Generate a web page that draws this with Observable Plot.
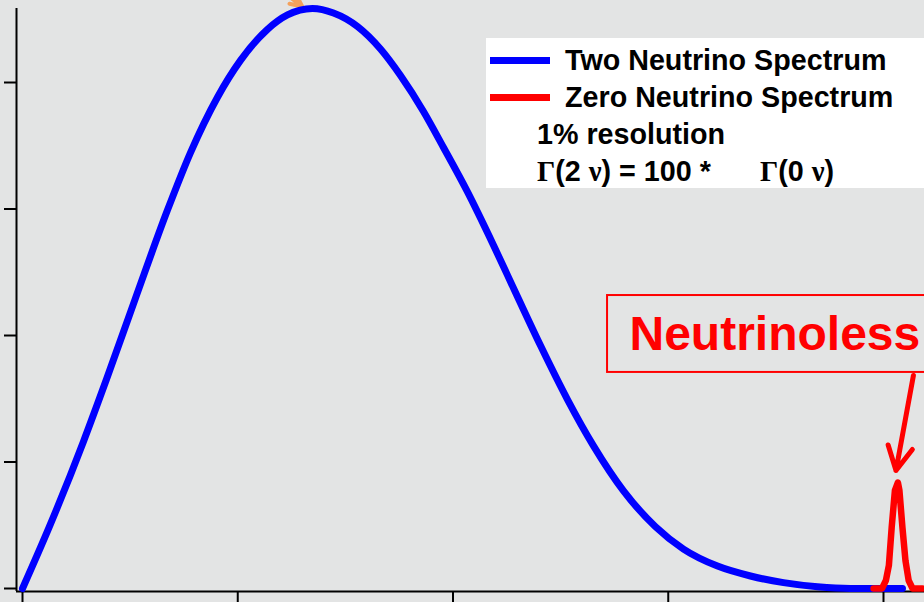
<!DOCTYPE html>
<html>
<head>
<meta charset="utf-8">
<script src="https://cdn.jsdelivr.net/npm/d3@7"></script>
<script src="https://cdn.jsdelivr.net/npm/@observablehq/plot@0.6"></script>
<style>
  html, body { margin: 0; padding: 0; background: #e3e4e4; }
  #chart { position: relative; width: 924px; height: 602px; overflow: hidden; }
  #chart svg { position: absolute; left: 0; top: 0; }
  .legend { position: absolute; left: 486px; top: 38px; width: 438px; height: 150px; background: #ffffff; }
  .legend .row { position: absolute; font-family: Arial, "Liberation Sans", sans-serif; font-weight: bold;
                 font-size: 28.7px; line-height: 28px; color: #000; white-space: nowrap; }
  .legend .swatch { position: absolute; left: 4px; width: 60px; height: 7px; }
  .greek { font-family: "Liberation Serif", "Times New Roman", serif; font-weight: bold; }
</style>
</head>
<body>
<div id="chart"></div>
<script>
// Summed electron energy spectra (arbitrary units)
const twoNuEnergy = [0, 0.1254, 0.2834, 0.3902, 0.5250, 0.6736, 0.7805, 0.9059, 1.0128, 1.1382,
  1.2311, 1.3473, 1.4448, 1.5563, 1.6632, 1.7561, 1.8629, 1.9559, 2.0674, 2.1882, 2.2997,
  2.4065, 2.5319, 2.6527, 2.7921, 2.9408, 3.0709, 3.2288, 3.3821, 3.5354, 3.6934, 3.8467, 4.0883];
const twoNuCounts = [0, 0.4909, 1.1628, 1.6538, 2.2957, 2.9913, 3.4458, 3.8838, 4.1747, 4.4206,
  4.5344, 4.5850, 4.5494, 4.4427, 4.2648, 4.0553, 3.7708, 3.4862, 3.1352, 2.7138, 2.3059,
  1.9202, 1.4933, 1.1273, 0.7715, 0.4885, 0.3115, 0.1771, 0.0988, 0.0466, 0.0142, 0.0008, 0];

const zeroNuEnergy = [3.954, 3.993, 4.011, 4.025, 4.038, 4.053, 4.067, 4.074, 4.088, 4.102, 4.117, 4.135, 4.181];
const zeroNuCounts = [0, 0, 0.063, 0.182, 0.482, 0.775, 0.838, 0.775, 0.482, 0.221, 0.063, 0, 0];

const xTicks = [0, 1, 2, 3, 4];
const yTicks = [0, 1, 2, 3, 4];

const legendLabels = ["Two Neutrino Spectrum", "Zero Neutrino Spectrum"];
const noteLabel = "Neutrinoless";

const twoNu = twoNuEnergy.map((e, i) => ({energy: e, counts: twoNuCounts[i]}));
const zeroNu = zeroNuEnergy.map((e, i) => ({energy: e, counts: zeroNuCounts[i]}));

const xDomain = [-0.0279, 4.1905];
const yDomain = [-0.0237, 4.585];

// callout box, label and arrow pointing at the 0ν peak
const callout = {x1: 2.718, x2: 4.4, y1: 1.708, y2: 2.316, tx: 2.820, ty: 2.008};
const pointer = {x1: 4.139, y1: 1.684, x2: 4.058, y2: 0.933};
const topPointer = {x1: 1.155, y1: 4.79, x2: 1.300, y2: 4.60};

const font = 'Arial, "Liberation Sans", sans-serif';

const plot = Plot.plot({
  width: 924,
  height: 602,
  marginLeft: 16,
  marginRight: 0,
  marginTop: 8,
  marginBottom: 11,
  x: {domain: xDomain},
  y: {domain: yDomain},
  style: {background: "#e3e4e4", fontFamily: font},
  marks: [
    Plot.axisY({ticks: yTicks, tickSize: 12, tickFormat: () => null, stroke: "#000", strokeWidth: 2}),
    Plot.axisX({ticks: xTicks, tickSize: 12, tickFormat: () => null, stroke: "#000", strokeWidth: 2}),
    Plot.ruleX([xDomain[0]], {stroke: "#000", strokeWidth: 2}),
    Plot.ruleY([yDomain[0]], {stroke: "#000", strokeWidth: 2}),
    Plot.arrow([topPointer], {x1: "x1", y1: "y1", x2: "x2", y2: "y2", stroke: "#f4a15c", strokeWidth: 4, headLength: 6, headAngle: 50}),
    Plot.line(twoNu, {x: "energy", y: "counts", stroke: "#0000ff", strokeWidth: 7, curve: "monotone-x"}),
    Plot.line(zeroNu, {x: "energy", y: "counts", stroke: "#ff0000", strokeWidth: 6.5, strokeLinejoin: "round"}),
    Plot.rect([callout], {x1: "x1", x2: "x2", y1: "y1", y2: "y2", fill: "none", stroke: "#ff0000", strokeWidth: 2}),
    Plot.text([callout], {x: "tx", y: "ty", text: () => noteLabel, fill: "#ff0000", fontSize: 48,
      fontWeight: "bold", textAnchor: "start", fontFamily: font}),
    Plot.arrow([pointer], {x1: "x1", y1: "y1", x2: "x2", y2: "y2", stroke: "#ff0000", strokeWidth: 5, headLength: 8, headAngle: 55})
  ]
});

const chart = document.getElementById("chart");
chart.appendChild(plot);

// legend panel
const legend = document.createElement("div");
legend.className = "legend";
legend.innerHTML = `
  <div class="swatch" style="top:19px;background:#0000ff"></div>
  <div class="row" style="left:79px;top:8px">${legendLabels[0]}</div>
  <div class="swatch" style="top:56px;background:#ff0000"></div>
  <div class="row" style="left:79px;top:45px">${legendLabels[1]}</div>
  <div class="row" style="left:51px;top:82px">1% resolution</div>
  <div class="row" style="left:51px;top:119px"><span class="greek">Γ</span>(2 <span class="greek">ν</span>) = 100 *</div>
  <div class="row" style="left:274px;top:119px"><span class="greek">Γ</span>(0 <span class="greek">ν</span>)</div>
`;
chart.appendChild(legend);
</script>
</body>
</html>
